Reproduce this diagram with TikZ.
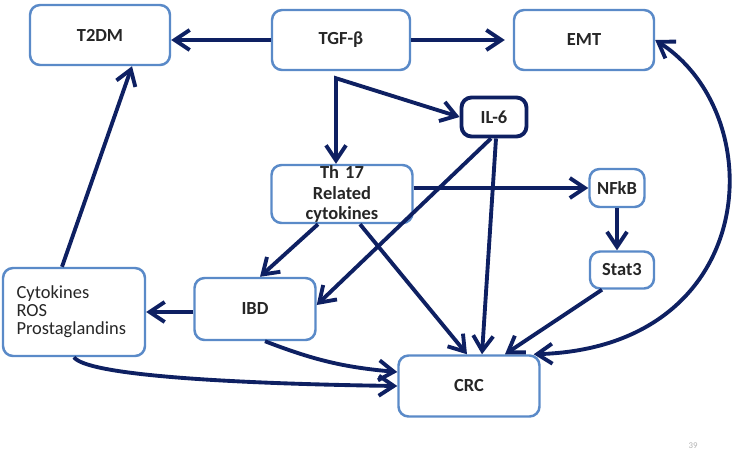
\documentclass[tikz,border=0pt]{standalone}
\usepackage{fontspec}
\setmainfont{Carlito}
\usepackage{tikz}
\usetikzlibrary{arrows.meta}
\definecolor{navy}{RGB}{14,32,98}
\definecolor{boxblue}{RGB}{90,138,200}
\tikzstyle{factor} = [rectangle,rounded corners=0.2cm,draw=boxblue,line width=1.4pt,
                      text centered,text=black!85,fill=white,
                      font=\fontsize{10.5}{11.5}\selectfont\bfseries]
\tikzstyle{arrow} = [navy,line width=2.2pt,->,>={Straight Barb[length=0.3cm,width=0.4cm]}]

\begin{document}
\begin{tikzpicture}[node distance=2cm]
 \useasboundingbox (0,0) rectangle (14.68,-9);
 \node (TGF) [factor,minimum width=2.76cm,minimum height=1.2cm] at (6.82,-0.8) {TGF-β};
 \node (TD) [factor,left of=TGF,xshift=-2.82cm,yshift=0.1cm,
             minimum width=2.8cm,minimum height=1.2cm] {T2DM};
 \node (EMT) [factor,right of=TGF,xshift=2.86cm,minimum width=2.8cm,minimum height=1.2cm] {EMT};
 \node (IL) [factor,right of=TGF,xshift=1.06cm,yshift=-1.54cm,minimum width=1.3cm,
             minimum height=0.78cm,draw=navy,line width=2.2pt] {IL-6};
 \node (TH) [factor,below of=TGF,xshift=0.02cm,yshift=-1.08cm,minimum width=2.82cm,
             minimum height=1.16cm,text width=2.5cm,inner ysep=0pt] {Th 17\\Related\\cytokines};
 \node (NF) [factor,right of=TH,xshift=3.5cm,yshift=0.12cm,
             minimum width=1.1cm,minimum height=0.76cm] {NFkB};
 \node (ST) [factor,below of=NF,xshift=0.1cm,yshift=0.36cm,
             minimum width=1.28cm,minimum height=0.74cm] {Stat3};
 \node (IBD) [factor,below of=TH,xshift=-1.74cm,yshift=-0.3cm,
              minimum width=2.42cm,minimum height=1.24cm] {IBD};
 \node (CY) [factor,left of=IBD,xshift=-1.62cm,yshift=-0.06cm,minimum width=2.84cm,
             minimum height=1.76cm,text width=2.3cm,align=left,
             font=\fontsize{10.5}{10.3}\selectfont] {Cytokines\\ROS\\Prostaglandins};
 \node (CRC) [factor,right of=IBD,xshift=2.28cm,yshift=-1.54cm,
              minimum width=2.82cm,minimum height=1.22cm] {CRC};
 \node (pg) [text=gray!60,font=\fontsize{5}{5}\selectfont] at (13.86,-8.92) {39};
 \coordinate (split) at ([xshift=-0.1cm,yshift=-0.14cm]TGF.south);
 \draw [arrow] (TGF.west) -- (TGF.west -| TD.east);
 \draw [arrow,shorten >=0.16cm] (TGF.east) -- (EMT.west);
 \draw [arrow,<->] (split |- TH.north) -- (split) -- (IL.west);
 \draw [arrow] ([xshift=-0.06cm]IL.south) -- ([yshift=0.08cm]IBD.east);
 \draw [arrow] ([xshift=0.04cm]IL.south) -- ([xshift=0.26cm]CRC.north);
 \draw [arrow] (TH.east |- NF.west) -- (NF.west);
 \draw [arrow] ([xshift=-0.48cm]TH.south) -- ([xshift=0.1cm]IBD.north);
 \draw [arrow] ([xshift=0.36cm]TH.south) -- ([xshift=-0.04cm]CRC.north);
 \draw [arrow] (NF.south) -- (NF.south |- ST.north);
 \draw [arrow] ([xshift=-0.4cm]ST.south) -- ([xshift=0.72cm]CRC.north);
 \draw [arrow] (IBD.west |- CY.east) -- (CY.east);
 \draw [arrow] ([xshift=-0.24cm]CY.north) -- ([xshift=0.64cm]TD.south);
 \draw [arrow] (CY.south) .. controls +(0.25,-0.35) and +(-3.5,0.05) .. (CRC.west);
 \draw [arrow] ([xshift=0.2cm]IBD.south) to[bend right=8] ([yshift=0.28cm]CRC.west);
 \draw [arrow,<->] (EMT.east) .. controls +(2.34,-1.5) and +(4.54,0.14)
       .. ([xshift=-0.14cm]CRC.north east);
\end{tikzpicture}
\end{document}
